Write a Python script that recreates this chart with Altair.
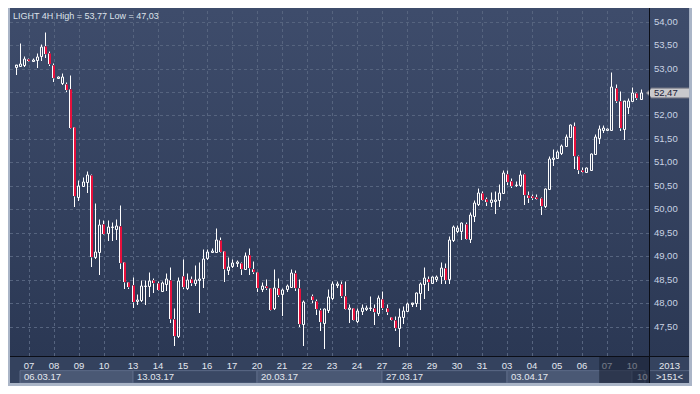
import altair as alt
import pandas as pd

# ---------------- data (4H candles, index 70 has no bar) ----------------
opens = [
    53.04, 53.06, 53.08, 53.20, 53.17, 53.18, 53.27, 53.47, 53.32, 53.08,
    52.79, 52.69, 52.67, 52.57, 51.75, 50.27, 50.50, 50.59, 50.73, 48.98,
    49.10, 49.69, 49.50, 49.62, 49.58, 49.65, 48.89, 48.46, 48.38, 48.05,
    48.07, 48.36, 48.37, 48.49, 48.43, 48.26, 48.42, 48.50, 47.67, 47.31,
    48.58, 48.33, 48.52, 48.43, 48.50, 48.54, 48.96, 49.10, 49.10, 49.34,
    49.12, 48.71, 48.79, 48.85, 48.86, 48.73, 49.03, 48.74, 48.66, 48.30,
    48.37, 48.33, 47.89, 48.33, 48.20, 48.30, 48.35, 48.64, 48.32, 47.56,
    48.15, 48.05, 47.86, 47.59, 47.86, 48.12, 48.39, 48.41, 48.16, 47.88,
    47.89, 47.62, 47.84, 47.88, 47.90, 47.90, 47.79, 48.09, 47.91, 47.70,
    47.65, 47.47, 47.70, 47.84, 47.98, 48.01, 48.21, 48.41, 48.51, 48.44,
    48.51, 48.58, 48.75, 48.51, 49.34, 49.54, 49.54, 49.69, 49.37, 49.86,
    50.12, 50.34, 50.22, 50.16, 50.17, 50.20, 50.35, 50.75, 50.61, 50.51,
    50.52, 50.75, 50.30, 50.29, 50.26, 50.24, 50.08, 50.44, 51.07, 51.10,
    51.20, 51.35, 51.54, 51.77, 51.14, 50.84, 50.80, 50.83, 51.19, 51.53,
    51.70, 51.69, 51.69, 52.58, 52.31, 51.71, 52.19, 52.30, 52.48, 52.36,
]
highs = [
    53.08, 53.55, 53.27, 53.23, 53.23, 53.33, 53.52, 53.77, 53.37, 53.12,
    52.84, 52.90, 52.72, 52.86, 51.76, 50.63, 50.69, 50.82, 50.75, 50.14,
    49.80, 49.77, 49.77, 49.73, 49.80, 50.10, 48.89, 48.46, 48.55, 48.20,
    48.50, 48.49, 48.67, 48.54, 48.47, 48.47, 48.64, 48.77, 47.91, 48.55,
    48.94, 48.65, 48.59, 48.81, 48.88, 49.15, 49.15, 49.17, 49.61, 49.42,
    49.12, 48.98, 48.94, 48.92, 48.88, 49.09, 49.18, 48.91, 48.66, 48.46,
    48.51, 48.33, 48.74, 48.53, 48.33, 48.41, 48.74, 48.71, 48.52, 48.06,
    48.20, 48.10, 47.89, 47.90, 48.30, 48.47, 48.47, 48.47, 48.47, 47.99,
    47.90, 47.90, 47.99, 47.96, 48.15, 47.99, 48.17, 48.26, 47.99, 47.71,
    47.72, 47.89, 47.94, 48.02, 48.01, 48.24, 48.46, 48.77, 48.59, 48.59,
    48.60, 48.88, 48.85, 49.44, 49.67, 49.66, 49.74, 49.73, 49.95, 50.19,
    50.45, 50.40, 50.27, 50.37, 50.39, 50.54, 50.84, 50.84, 50.67, 50.60,
    50.83, 50.78, 50.40, 50.32, 50.32, 50.27, 50.45, 51.14, 51.28, 51.26,
    51.39, 51.60, 51.82, 51.86, 51.16, 50.90, 50.90, 51.20, 51.60, 51.80,
    51.80, 51.73, 52.92, 52.67, 52.52, 52.31, 52.37, 52.60, 52.51, 52.57,
]
lows = [
    52.86, 53.05, 53.03, 53.13, 53.14, 53.01, 53.16, 53.23, 53.06, 52.71,
    52.77, 52.65, 52.50, 51.73, 50.05, 50.17, 50.49, 50.35, 48.77, 48.94,
    48.61, 49.45, 49.32, 49.32, 49.35, 48.72, 48.31, 48.31, 47.90, 47.96,
    48.03, 47.96, 48.13, 48.22, 48.26, 48.25, 48.26, 47.59, 47.10, 47.26,
    48.30, 48.28, 48.37, 48.37, 47.79, 48.33, 48.92, 49.07, 49.08, 49.08,
    48.45, 48.61, 48.76, 48.77, 48.61, 48.71, 48.61, 48.62, 48.25, 48.25,
    48.28, 47.84, 47.86, 48.13, 47.72, 48.25, 48.32, 48.27, 47.50, 47.10,
    48.01, 47.75, 47.41, 47.03, 47.79, 48.08, 48.32, 48.12, 47.86, 47.59,
    47.62, 47.59, 47.75, 47.84, 47.84, 47.54, 47.73, 47.86, 47.75, 47.64,
    47.40, 47.07, 47.55, 47.82, 47.92, 47.92, 47.86, 48.09, 48.27, 48.41,
    48.45, 48.42, 48.42, 48.42, 49.31, 49.50, 49.35, 49.35, 49.28, 49.73,
    50.07, 50.17, 50.07, 50.05, 49.91, 50.05, 50.34, 50.51, 50.46, 50.48,
    50.48, 50.10, 50.13, 50.21, 50.21, 49.88, 50.04, 50.42, 50.92, 51.07,
    51.16, 51.34, 51.51, 50.85, 50.75, 50.77, 50.78, 50.81, 51.16, 51.39,
    51.62, 51.66, 51.67, 52.26, 51.67, 51.48, 52.04, 52.28, 52.33, 52.35,
]
closes = [
    53.07, 53.10, 53.21, 53.16, 53.18, 53.24, 53.46, 53.30, 53.10, 52.79,
    52.81, 52.82, 52.55, 51.73, 50.29, 50.50, 50.59, 50.73, 48.98, 49.10,
    49.67, 49.47, 49.63, 49.63, 49.65, 48.86, 48.46, 48.35, 48.03, 48.08,
    48.37, 48.37, 48.47, 48.43, 48.28, 48.43, 48.52, 47.67, 47.30, 48.48,
    48.35, 48.50, 48.43, 48.50, 48.52, 48.94, 49.09, 49.12, 49.34, 49.10,
    48.73, 48.77, 48.86, 48.88, 48.72, 49.01, 48.75, 48.66, 48.32, 48.37,
    48.32, 47.86, 48.33, 48.18, 48.28, 48.37, 48.64, 48.33, 47.55, 48.03,
    48.06, 47.88, 47.61, 47.88, 48.13, 48.41, 48.41, 48.16, 47.88, 47.90,
    47.65, 47.84, 47.90, 47.90, 47.91, 47.81, 48.11, 47.89, 47.82, 47.65,
    47.48, 47.70, 47.84, 47.98, 48.01, 48.22, 48.41, 48.53, 48.46, 48.56,
    48.56, 48.75, 48.50, 49.34, 49.63, 49.61, 49.71, 49.37, 49.88, 50.14,
    50.34, 50.19, 50.16, 50.19, 50.20, 50.35, 50.78, 50.58, 50.50, 50.52,
    50.73, 50.31, 50.25, 50.24, 50.23, 50.07, 50.44, 51.07, 51.10, 51.22,
    51.34, 51.54, 51.79, 51.14, 50.83, 50.80, 50.88, 51.18, 51.54, 51.71,
    51.73, 51.71, 52.61, 52.31, 51.73, 52.30, 52.30, 52.48, 52.38, 52.47,
]
bar_index = [i for i in range(151) if i != 70]

price_ticks = [47.5, 48.0, 48.5, 49.0, 49.5, 50.0, 50.5, 51.0, 51.5, 52.0, 52.5, 53.0, 53.5, 54.0]
day_pos = [3.2, 9.2, 15.2, 21.2, 28, 34, 40, 46, 52, 58, 64, 70, 76, 82, 88,
           94, 100, 106, 112, 118, 124, 130, 136, 142, 148]
day_labels = ["07", "08", "09", "10", "13", "14", "15", "16", "17", "20", "21", "22", "23",
              "24", "27", "28", "29", "30", "31", "03", "04", "05", "06", "07", "10"]
week_labels = ["06.03.17", "13.03.17", "20.03.17", "27.03.17", "03.04.17", "10.04.17"]
week_start = [1, 28, 58, 88, 118, 148]
week_end = [28, 58, 88, 118, 148, 151]
title_text = "LIGHT 4H High = 53,77 Low = 47,03"
year_text = "2013"
count_text = ">151<"

# ---------------- layout helpers ----------------
W, H = 639, 345
def px(r):  # reference x pixel -> plot-relative pixel
    return r * 684 / 700 - 2
def py(r):
    return r * 378 / 394 - 3

RED = "#e8103c"
GRID = "#56647f"
FONT = "Liberation Sans"
TXT = "#e4e8f0"

xs = alt.Scale(domain=[-0.23, 150.84], nice=False, zero=False, round=True)
ys = alt.Scale(domain=[46.878, 54.2245], nice=False, zero=False, round=True)

one = pd.DataFrame({"a": [0]})
def box(x1, x2, y1, y2, **mk):
    return alt.Chart(one).mark_rect(**mk).encode(
        x=alt.value(x1), x2=alt.value(x2), y=alt.value(y1), y2=alt.value(y2))

def hrule(x1, x2, y, **mk):
    return alt.Chart(one).mark_rule(**mk).encode(
        x=alt.value(x1), x2=alt.value(x2), y=alt.value(y))

def vrule(x, y1, y2, **mk):
    return alt.Chart(one).mark_rule(**mk).encode(
        x=alt.value(x), y=alt.value(y1), y2=alt.value(y2))

def label(t, x, y, **mk):
    return alt.Chart(pd.DataFrame({"t": [t]})).mark_text(**mk).encode(
        text="t:N", x=alt.value(x), y=alt.value(y))

grad = alt.Gradient(
    gradient="linear",
    stops=[alt.GradientStop(color="#3e4c6b", offset=0),
           alt.GradientStop(color="#2b3854", offset=1)],
    x1=0, x2=0, y1=0, y2=1)

plot_bg = box(0, W, 0, H, fill=grad)
right_bg = box(W, px(697), py(0), H, fill=grad)
bottom_bg = box(px(0), px(697), H, py(391), fill="#34425e")

ygrid = alt.Chart(pd.DataFrame({"p": price_ticks})).mark_rule(
    color=GRID, strokeDash=[3, 3], strokeWidth=1, yOffset=0.5).encode(
    y=alt.Y("p:Q", scale=ys, axis=None), x=alt.value(0), x2=alt.value(W))
xgrid = alt.Chart(pd.DataFrame({"pos": day_pos})).mark_rule(
    color=GRID, strokeDash=[3, 3], strokeWidth=1, xOffset=0.5).encode(
    x=alt.X("pos:Q", scale=xs, axis=None), y=alt.value(0), y2=alt.value(H))

df = pd.DataFrame({"i": bar_index, "open": opens, "high": highs, "low": lows, "close": closes})
base = alt.Chart(df).transform_calculate(
    top="max(datum.open, datum.close)", bot="min(datum.open, datum.close)")
xenc = alt.X("i:Q", scale=xs, axis=None)
upper = base.mark_rule(color="white", strokeWidth=1, xOffset=0.5, yOffset=0.5).encode(
    x=xenc, y=alt.Y("high:Q", scale=ys, axis=None), y2="top:Q")
lower = base.mark_rule(color="white", strokeWidth=1, xOffset=0.5, yOffset=0.5).encode(
    x=xenc, y=alt.Y("bot:Q", scale=ys, axis=None), y2="low:Q")
# rising bars: hollow, white outline
body_up = base.transform_filter("datum.close >= datum.open").mark_bar(
    size=2, stroke="white", strokeWidth=1, fill="transparent", xOffset=0.5, yOffset=0.5).encode(
    x=xenc, y=alt.Y("open:Q", scale=ys, axis=None), y2="close:Q")
# falling bars: red body with a white left edge
body_dn = base.transform_filter("datum.close < datum.open").mark_bar(
    size=3, color=RED, xOffset=0.5, yOffset=0.5).encode(
    x=xenc, y=alt.Y("open:Q", scale=ys, axis=None), y2="close:Q")
body_dn_edge = base.transform_filter("datum.close < datum.open").mark_rule(
    color="white", strokeWidth=1, xOffset=-0.5, yOffset=0.5).encode(
    x=xenc, y=alt.Y("open:Q", scale=ys, axis=None), y2="close:Q")

ylabels = alt.Chart(pd.DataFrame({"p": price_ticks})).transform_calculate(
    t="replace(format(datum.p, '.2f'), '.', ',')").mark_text(
    align="left", baseline="middle", font=FONT, fontSize=9.5, color="#c9d3e4").encode(
    y=alt.Y("p:Q", scale=ys, axis=None), x=alt.value(px(661)), text="t:N")

last = pd.DataFrame({"p": [closes[-1]]})
marker = alt.Chart(last).mark_point(
    shape="M-1,0 L-0.77,-0.225 L1,-0.225 L1,0.225 L-0.77,0.225 Z",
    size=(44 * 684 / 700) ** 2, filled=True, fill="#c9c9cc", stroke="#8c8c94",
    strokeWidth=1, opacity=1).encode(
    y=alt.Y("p:Q", scale=ys, axis=None), x=alt.value(px(675.5)))
marker_txt = alt.Chart(last).transform_calculate(
    t="replace(format(datum.p, '.2f'), '.', ',')").mark_text(
    align="left", baseline="middle", font=FONT, fontSize=9.5, color="#1a2036").encode(
    y=alt.Y("p:Q", scale=ys, axis=None), x=alt.value(px(661)), text="t:N")

day_df = pd.DataFrame({"pos": day_pos, "lab": day_labels})
day_txt = alt.Chart(day_df).mark_text(
    align="center", baseline="middle", font=FONT, fontSize=9.5, color=TXT).encode(
    x=alt.X("pos:Q", scale=xs, axis=None), y=alt.value(py(372.7)), text="lab:N")

wk_df = pd.DataFrame({"s": week_start, "e": week_end, "lab": week_labels})
wk_box = alt.Chart(wk_df).transform_window(k="row_number()").mark_rect(
    stroke="#5c6a87", strokeWidth=1).encode(
    x=alt.X("s:Q", scale=xs, axis=None), x2="e:Q",
    y=alt.value(py(378)), y2=alt.value(py(391)),
    fill=alt.condition("datum.k % 2 == 1", alt.value("#4a5874"), alt.value("#3a4864")))
wk_txt = alt.Chart(wk_df).transform_filter("datum.e - datum.s > 5").mark_text(
    align="left", baseline="middle", dx=4, font=FONT, fontSize=9.5, color=TXT).encode(
    x=alt.X("s:Q", scale=xs, axis=None), y=alt.value(py(384.3)), text="lab:N")
# the last week starts right at the chart's edge: only its first characters show
wk_txt_last = alt.Chart(wk_df).transform_filter("datum.e - datum.s <= 5").mark_text(
    align="left", baseline="middle", dx=5, font=FONT, fontSize=9.5, color=TXT,
    limit=11, ellipsis="\u200b").encode(
    x=alt.X("s:Q", scale=xs, axis=None), y=alt.value(py(384.3)), text="lab:N")

dim = box(px(605), W, H, py(391), fill="#161d30", opacity=0.55)

right_cover = box(W, px(697), H, py(391), fill="#35435f")
right_sep = hrule(W, px(697), py(378), color="#56647f", strokeWidth=1)
year_lbl = label(year_text, px(677), py(372.7), align="center", baseline="middle",
                 font=FONT, fontSize=9.5, color=TXT)
count_lbl = label(count_text, px(677), py(384.3), align="center", baseline="middle",
                  font=FONT, fontSize=9.5, color=TXT)

sep_v = vrule(W + 0.5, py(0), py(391), color="#0b0e17", strokeWidth=1)
sep_h = hrule(px(0), px(697), H + 0.5, color="#0b0e17", strokeWidth=1)

FRAME = "#aab5c7"
frame_l = box(-2, 0, py(0), py(394), fill=FRAME)
frame_r = box(px(697), px(700), py(0), py(394), fill=FRAME)
frame_b = box(-2, px(700), py(391), py(394), fill=FRAME)

title = label(title_text, px(5), py(8.5), align="left", baseline="middle",
              font=FONT, fontSize=9, color="#dde2ea")

chart = alt.layer(
    plot_bg, right_bg, bottom_bg, ygrid, xgrid,
    upper, lower, body_up, body_dn, body_dn_edge,
    ylabels, marker, marker_txt,
    wk_box, day_txt, wk_txt, wk_txt_last, dim,
    right_cover, right_sep, year_lbl, count_lbl,
    sep_v, sep_h, frame_l, frame_r, frame_b, title,
).properties(
    width=W, height=H,
    autosize=alt.AutoSizeParams(type="none"),
    padding={"left": 2, "top": 3, "right": 43, "bottom": 30},
    background="#3e4c6b",
).configure_view(stroke=None)

chart.save("out.html", embed_options={"renderer": "svg", "actions": False})
